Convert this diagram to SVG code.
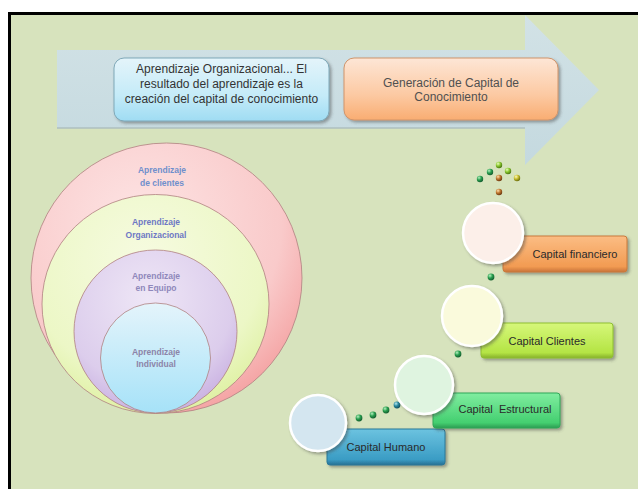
<svg xmlns="http://www.w3.org/2000/svg" width="638" height="489" viewBox="0 0 638 489">
  <defs>
    <linearGradient id="gArrow" x1="0" y1="0" x2="0" y2="1">
      <stop offset="0" stop-color="#d2e2e6"/>
      <stop offset="1" stop-color="#c4d9df"/>
    </linearGradient>
    <linearGradient id="gBlueBox" x1="0" y1="0" x2="0" y2="1">
      <stop offset="0" stop-color="#e4f4fa"/>
      <stop offset="0.6" stop-color="#c4ebf8"/>
      <stop offset="1" stop-color="#9fdcf3"/>
    </linearGradient>
    <linearGradient id="gOrangeBox" x1="0" y1="0" x2="0" y2="1">
      <stop offset="0" stop-color="#fde6d6"/>
      <stop offset="0.6" stop-color="#fcc9a2"/>
      <stop offset="1" stop-color="#f9ad72"/>
    </linearGradient>
    <radialGradient id="gPink" cx="0.4" cy="0.3" r="0.75">
      <stop offset="0" stop-color="#fde4e4"/>
      <stop offset="0.7" stop-color="#f9caca"/>
      <stop offset="1" stop-color="#f4a0a0"/>
    </radialGradient>
    <radialGradient id="gLime" cx="0.45" cy="0.3" r="0.75">
      <stop offset="0" stop-color="#f6fbe0"/>
      <stop offset="0.7" stop-color="#ecf7c6"/>
      <stop offset="1" stop-color="#dcef9c"/>
    </radialGradient>
    <radialGradient id="gLilac" cx="0.45" cy="0.3" r="0.75">
      <stop offset="0" stop-color="#eee6f6"/>
      <stop offset="0.7" stop-color="#dccdec"/>
      <stop offset="1" stop-color="#c6ace0"/>
    </radialGradient>
    <linearGradient id="gSky" x1="0" y1="0" x2="0" y2="1">
      <stop offset="0" stop-color="#e4f4fb"/>
      <stop offset="1" stop-color="#a6e2f8"/>
    </linearGradient>
    <linearGradient id="gBarOrange" x1="0" y1="0" x2="0" y2="1">
      <stop offset="0" stop-color="#fbbd84"/>
      <stop offset="0.85" stop-color="#f29b52"/>
      <stop offset="1" stop-color="#c8733a"/>
    </linearGradient>
    <linearGradient id="gBarLime" x1="0" y1="0" x2="0" y2="1">
      <stop offset="0" stop-color="#d6f77a"/>
      <stop offset="0.85" stop-color="#b4e444"/>
      <stop offset="1" stop-color="#86b02a"/>
    </linearGradient>
    <linearGradient id="gBarGreen" x1="0" y1="0" x2="0" y2="1">
      <stop offset="0" stop-color="#80eda0"/>
      <stop offset="0.85" stop-color="#44cf70"/>
      <stop offset="1" stop-color="#2c9c52"/>
    </linearGradient>
    <linearGradient id="gBarBlue" x1="0" y1="0" x2="0" y2="1">
      <stop offset="0" stop-color="#6cc3e0"/>
      <stop offset="0.85" stop-color="#3a9cc4"/>
      <stop offset="1" stop-color="#276f92"/>
    </linearGradient>
    <radialGradient id="gBead" cx="0.35" cy="0.3" r="0.7">
      <stop offset="0" stop-color="#b8f0c0"/>
      <stop offset="0.5" stop-color="#2aa050"/>
      <stop offset="1" stop-color="#146030"/>
    </radialGradient>
    <radialGradient id="gBeadTeal" cx="0.35" cy="0.3" r="0.7">
      <stop offset="0" stop-color="#b8e8f0"/>
      <stop offset="0.5" stop-color="#2a8aa0"/>
      <stop offset="1" stop-color="#145060"/>
    </radialGradient>
    <radialGradient id="gBeadYellow" cx="0.35" cy="0.3" r="0.7">
      <stop offset="0" stop-color="#fff8c0"/>
      <stop offset="0.5" stop-color="#c8c030"/>
      <stop offset="1" stop-color="#707010"/>
    </radialGradient>
    <radialGradient id="gBeadLime" cx="0.35" cy="0.3" r="0.7">
      <stop offset="0" stop-color="#e8ffc0"/>
      <stop offset="0.5" stop-color="#8cc830"/>
      <stop offset="1" stop-color="#4a7a10"/>
    </radialGradient>
    <radialGradient id="gBeadBrown" cx="0.35" cy="0.3" r="0.7">
      <stop offset="0" stop-color="#ffe0b0"/>
      <stop offset="0.5" stop-color="#c07830"/>
      <stop offset="1" stop-color="#703a10"/>
    </radialGradient>
    <filter id="shadow" x="-30%" y="-30%" width="160%" height="160%">
      <feDropShadow dx="2" dy="2" stdDeviation="1.5" flood-color="#404040" flood-opacity="0.45"/>
    </filter>
  </defs>
  <style>
    .box-text { font-family: "Liberation Sans", Arial, sans-serif; font-size: 12px; text-anchor: middle; }
    .ring-text { font-family: "Liberation Sans", Arial, sans-serif; font-size: 8.5px; font-weight: bold; text-anchor: middle; }
    .cap-text { font-family: "Liberation Sans", Arial, sans-serif; font-size: 11px; text-anchor: middle; fill: #2a2a2a; }
    .ring { stroke: #b08080; stroke-width: 0.8; }
    .bar { filter: url(#shadow); stroke-width: 1; }
    .disc { stroke: #ffffff; stroke-width: 2.5; filter: url(#shadow); }
  </style>

  <!-- page -->
  <rect width="638" height="489" fill="#ffffff"/>
  <rect x="9.5" y="13.5" width="640" height="490" fill="#d7e3bd" stroke="#000000" stroke-width="3"/>

  <!-- process arrow -->
  <g id="process-arrow">
    <path d="M57,50 H525 V15 L599,90 L525,165 V128 H57 Z" fill="url(#gArrow)"/>
    <path d="M57,128 H525" stroke="#aebfbf" stroke-width="1.5"/>
  </g>

  <g id="box-aprendizaje">
    <rect x="114" y="58" width="215" height="63" rx="10" fill="url(#gBlueBox)" stroke="#7fa8b8" stroke-width="1" filter="url(#shadow)"/>
    <text class="box-text" fill="#333333"><tspan x="221.5" y="73">Aprendizaje Organizacional... El</tspan><tspan x="221.5" y="88">resultado del aprendizaje es la</tspan><tspan x="221.5" y="103">creación del capital de conocimiento</tspan></text>
  </g>

  <g id="box-generacion">
    <rect x="344" y="58" width="214" height="62" rx="10" fill="url(#gOrangeBox)" stroke="#d0946a" stroke-width="1" filter="url(#shadow)"/>
    <text class="box-text" fill="#505050"><tspan x="451" y="87">Generación de Capital de</tspan><tspan x="451" y="101">Conocimiento</tspan></text>
  </g>

  <!-- nested learning circles -->
  <g id="ring-clientes">
    <ellipse cx="166.5" cy="278" rx="135.5" ry="135" fill="url(#gPink)" class="ring"/>
    <text class="ring-text" fill="#6f8fcc"><tspan x="162" y="173">Aprendizaje</tspan><tspan x="162" y="186">de clientes</tspan></text>
  </g>
  <g id="ring-organizacional">
    <ellipse cx="155.5" cy="304" rx="113.5" ry="109.5" fill="url(#gLime)" class="ring"/>
    <text class="ring-text" fill="#6e78c4"><tspan x="156" y="225">Aprendizaje</tspan><tspan x="156" y="238">Organizacional</tspan></text>
  </g>
  <g id="ring-equipo">
    <circle cx="155.5" cy="331.5" r="81.5" fill="url(#gLilac)" class="ring"/>
    <text class="ring-text" fill="#8f88bb"><tspan x="156" y="279">Aprendizaje</tspan><tspan x="156" y="291">en Equipo</tspan></text>
  </g>
  <g id="ring-individual">
    <circle cx="155.5" cy="358" r="55" fill="url(#gSky)" class="ring"/>
    <text class="ring-text" fill="#8c84a8"><tspan x="156" y="355">Aprendizaje</tspan><tspan x="156" y="367">Individual</tspan></text>
  </g>

  <!-- bead connectors between capital steps -->
  <g id="connectors">
    <circle cx="359" cy="418" r="3.4" fill="url(#gBead)"/>
    <circle cx="373" cy="415" r="3.4" fill="url(#gBead)"/>
    <circle cx="386" cy="410" r="3.4" fill="url(#gBead)"/>
    <circle cx="397" cy="405" r="3.4" fill="url(#gBeadTeal)"/>
    <circle cx="458" cy="354" r="3.4" fill="url(#gBead)"/>
    <circle cx="491" cy="277" r="3.4" fill="url(#gBead)"/>
    <circle cx="480" cy="179" r="3.2" fill="url(#gBead)"/>
    <circle cx="490" cy="172" r="3.2" fill="url(#gBead)"/>
    <circle cx="499" cy="165" r="3.2" fill="url(#gBeadLime)"/>
    <circle cx="508" cy="171" r="3.2" fill="url(#gBeadLime)"/>
    <circle cx="517" cy="178" r="3.2" fill="url(#gBeadYellow)"/>
    <circle cx="499" cy="178" r="3.2" fill="url(#gBeadBrown)"/>
    <circle cx="499" cy="192" r="3.2" fill="url(#gBeadBrown)"/>
  </g>

  <!-- capital steps -->
  <g id="capital-humano">
    <rect x="327" y="429" width="118" height="36" rx="3" fill="url(#gBarBlue)" stroke="#2a7898" class="bar"/>
    <circle cx="318" cy="423" r="28" fill="#d4e6f0" class="disc"/>
    <text class="cap-text" x="386" y="451" font-size="9.5" fill="#1e4a66">Capital Humano</text>
  </g>
  <g id="capital-estructural">
    <rect x="433" y="393" width="127" height="35" rx="3" fill="url(#gBarGreen)" stroke="#30a858" class="bar"/>
    <circle cx="424" cy="385" r="29" fill="#dff4e0" class="disc"/>
    <text class="cap-text" x="505" y="413" xml:space="preserve">Capital  Estructural</text>
  </g>
  <g id="capital-clientes">
    <rect x="481" y="323" width="132" height="35" rx="3" fill="url(#gBarLime)" stroke="#8fc030" class="bar"/>
    <circle cx="472" cy="316" r="30" fill="#fafadc" class="disc"/>
    <text class="cap-text" x="547" y="345" font-size="11.5">Capital Clientes</text>
  </g>
  <g id="capital-financiero">
    <rect x="503" y="236" width="124" height="36" rx="3" fill="url(#gBarOrange)" stroke="#c97a3a" class="bar"/>
    <circle cx="493" cy="233" r="30" fill="#fcefe9" class="disc"/>
    <text class="cap-text" x="575" y="258" font-size="11.8">Capital financiero</text>
  </g>
</svg>
